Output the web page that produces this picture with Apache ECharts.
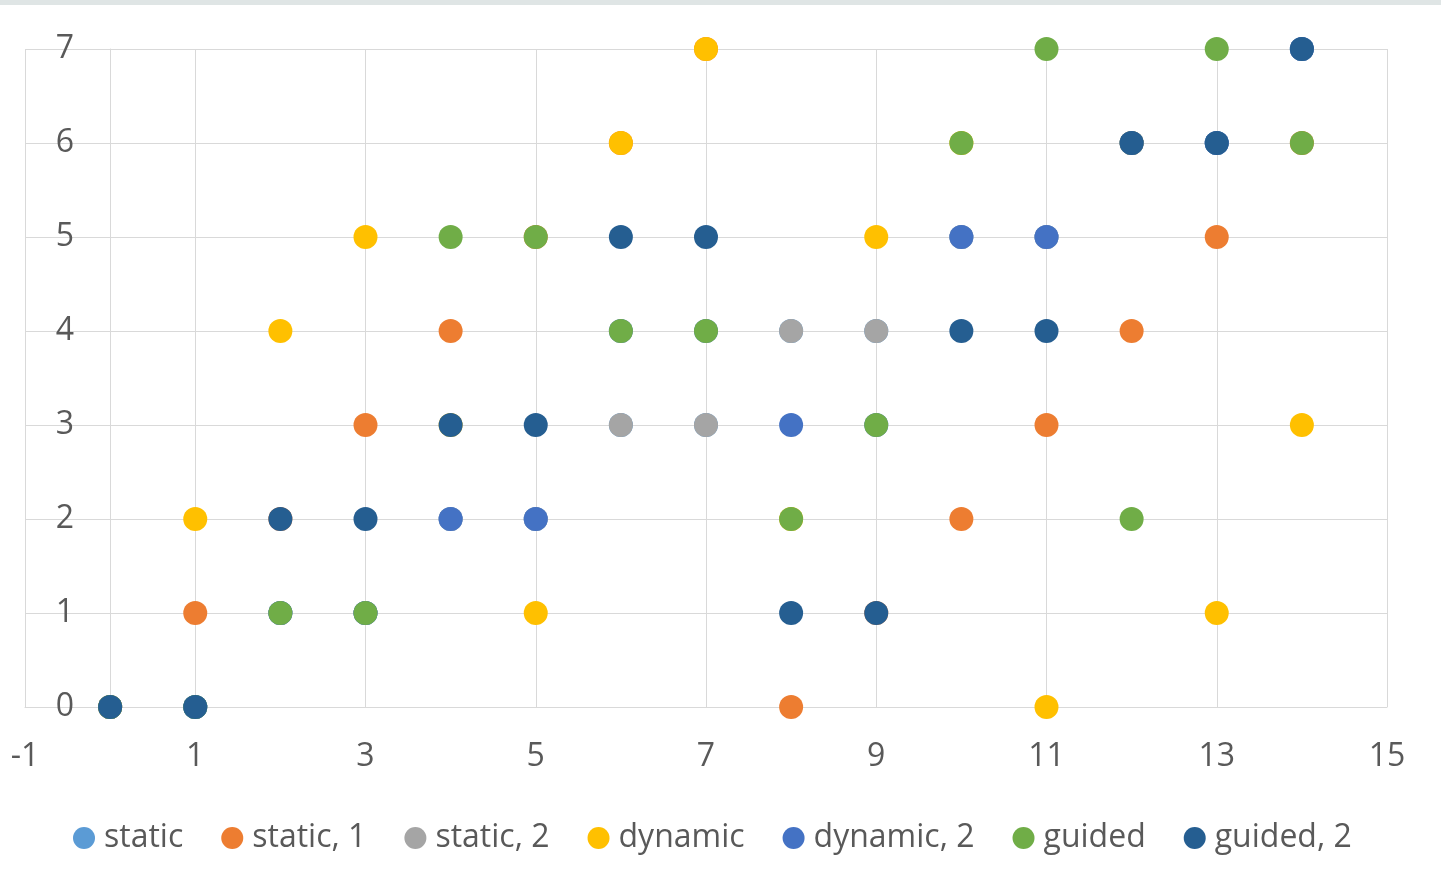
<!DOCTYPE html>
<html>
<head>
<meta charset="utf-8">
<title>Iteration to thread mapping by schedule</title>
<script src="https://cdn.jsdelivr.net/npm/echarts@6/dist/echarts.min.js"></script>
<style>
  html, body { margin: 0; padding: 0; background: #ffffff; }
  body { border-top: 5px solid #dfe5e5; }
  #chart { width: 1441px; height: 889px; }
</style>
</head>
<body>
<div id="chart"></div>
<script>
// Loop iteration index (x) and the thread that ran it (y), per OpenMP schedule
const iterations = [0, 1, 2, 3, 4, 5, 6, 7, 8, 9, 10, 11, 12, 13, 14];

const staticDefault = [0, 0, 1, 1, 2, 2, 3, 3, 4, 4, 5, 5, 6, 6, 7];
const static1       = [0, 1, 2, 3, 4, 5, 6, 7, 0, 1, 2, 3, 4, 5, 6];
const static2       = [0, 0, 1, 1, 2, 2, 3, 3, 4, 4, 5, 5, 6, 6, 7];
const dynamicDef    = [0, 2, 4, 5, 3, 1, 6, 7, 2, 5, 6, 0, 6, 1, 3];
const dynamic2      = [0, 0, 1, 1, 2, 2, 4, 4, 3, 3, 5, 5, 6, 6, 7];
const guidedDef     = [0, 0, 1, 1, 5, 5, 4, 4, 2, 3, 6, 7, 2, 7, 6];
const guided2       = [0, 0, 2, 2, 3, 3, 5, 5, 1, 1, 4, 4, 6, 6, 7];

const seriesNames  = ['static', 'static, 1', 'static, 2', 'dynamic', 'dynamic, 2', 'guided', 'guided, 2'];
const seriesValues = [staticDefault, static1, static2, dynamicDef, dynamic2, guidedDef, guided2];
const seriesColors = ['#5B9BD5', '#ED7D31', '#A5A5A5', '#FFC000', '#4472C4', '#70AD47', '#255E91'];

const xTicks = { min: -1, max: 15, step: 2 };
const yTicks = { min: 0, max: 7, step: 1 };

const FONT = "'Open Sans', 'Noto Sans', sans-serif";
const TEXT = '#595959';
const GRID = '#d9d9d9';

const chart = echarts.init(document.getElementById('chart'), null, { renderer: 'canvas' });

chart.setOption({
  animation: false,
  backgroundColor: '#ffffff',
  color: seriesColors,
  grid: { left: 25, right: 54, top: 44, bottom: 187, containLabel: false, outerBoundsMode: 'none' },
  xAxis: {
    type: 'value',
    min: xTicks.min,
    max: xTicks.max,
    interval: xTicks.step,
    axisLine: { show: true, lineStyle: { color: GRID, width: 1 } },
    axisTick: { show: false },
    axisLabel: { color: TEXT, fontFamily: FONT, fontSize: 32, margin: 34 },
    splitLine: { show: true, lineStyle: { color: GRID, width: 1 } }
  },
  yAxis: {
    type: 'value',
    min: yTicks.min,
    max: yTicks.max,
    interval: yTicks.step,
    axisLine: { show: true, onZero: true, lineStyle: { color: GRID, width: 1 } },
    axisTick: { show: false },
    axisLabel: { color: TEXT, fontFamily: FONT, fontSize: 32, margin: -49 },
    splitLine: { show: true, lineStyle: { color: GRID, width: 1 } }
  },
  legend: {
    bottom: 35,
    left: 68,
    padding: 5,
    icon: 'circle',
    itemWidth: 22,
    itemHeight: 22,
    itemGap: 38,
    textStyle: { color: TEXT, fontFamily: FONT, fontSize: 32, padding: [0, 0, 0, 4] },
    data: seriesNames
  },
  series: seriesNames.map((name, i) => ({
    name: name,
    type: 'scatter',
    symbol: 'circle',
    symbolSize: 24,
    itemStyle: { color: seriesColors[i], opacity: 1 },
    emphasis: { disabled: true },
    data: iterations.map((it, k) => [it, seriesValues[i][k]])
  }))
});
</script>
</body>
</html>
